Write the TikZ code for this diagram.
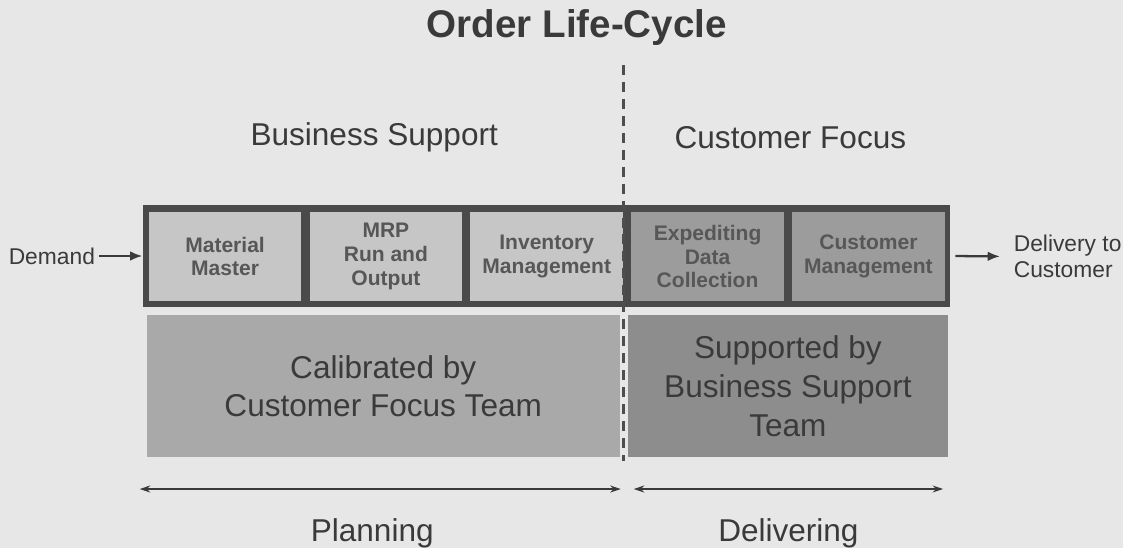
\documentclass[tikz,border=0pt]{standalone}
\usepackage{fontspec}
\setmainfont{Liberation Sans}
\usetikzlibrary{arrows.meta,positioning}

\definecolor{paper}{HTML}{E7E7E7}
\definecolor{ink}{HTML}{3A3A3A}
\definecolor{framegray}{HTML}{4A4A4A}
\definecolor{planfill}{HTML}{C6C6C6}
\definecolor{deliverfill}{HTML}{9C9C9C}
\definecolor{planband}{HTML}{A9A9A9}
\definecolor{deliverband}{HTML}{8D8D8D}

\tikzset{
  stage/.style={minimum width=3.06cm, minimum height=1.8cm, inner sep=0pt,
    align=center, text=ink!85, font=\bfseries\fontsize{12}{13.5}\selectfont},
  plan stage/.style={stage, fill=planfill},
  deliver stage/.style={stage, fill=deliverfill},
  band/.style={minimum height=2.84cm, inner sep=0pt, align=center,
    text=ink, font=\fontsize{18}{22}\selectfont},
  heading/.style={text=ink, font=\fontsize{18}{22}\selectfont},
  side/.style={text=ink, inner sep=2pt, align=left, font=\fontsize{13}{15}\selectfont},
  flow/.style={-{Latex[length=7pt,width=5.5pt]}, line width=1.3pt, draw=ink},
  span/.style={{Stealth[length=6pt,width=4pt]}-{Stealth[length=6pt,width=4pt]},
    line width=0.7pt, draw=ink},
}

\begin{document}
\begin{tikzpicture}[x=0.02cm, y=-0.02cm]
% background
\fill[paper] (0,0) rectangle (1125,549);

% title
\node[text=ink, font=\bfseries\fontsize{22}{26}\selectfont] (title) at (578,28) {Order Life-Cycle};

% the two halves
\node[heading] (business) at (375,138) {Business Support};
\node[heading] (focus) at (792,138) {Customer Focus};

% process row
\node[fill=framegray, minimum width=16.18cm, minimum height=2.06cm, inner sep=0pt] (row) at (547.5,256.5) {};
\node[plan stage] (master) at (225.5,257) {Material\\Master};
\node[plan stage, right=0.15cm of master] (mrp) {MRP\\Run and\\Output};
\node[plan stage, right=0.15cm of mrp] (inventory) {Inventory\\Management};
\node[deliver stage, right=0.15cm of inventory] (expediting) {Expediting\\Data\\Collection};
\node[deliver stage, right=0.15cm of expediting] (customer) {Customer\\Management};

% in and out
\node[side, anchor=east] (demand) at (99,256.5) {Demand};
\draw[flow] (demand) -- (row.west);
\node[side, anchor=west] (delivery) at (1012,257) {Delivery to\\Customer};
\draw[flow, shorten <=0.1cm, shorten >=0.2cm] (row.east) -- (delivery.west);

% teams
\node[band, fill=planband, minimum width=9.48cm] (calibrated) at (384,387) {Calibrated by\\Customer Focus Team};
\node[band, fill=deliverband, minimum width=6.42cm] (supported) at (789.5,387) {Supported by\\Business Support\\Team};

% divider
\draw[ink!90, line width=1.6pt, dash pattern=on 0.2cm off 0.14cm] (625,65) -- (625,462);

% phases
\coordinate (plan from) at (140,490);
\coordinate (plan to) at (622,490);
\coordinate (deliver from) at (635,490);
\coordinate (deliver to) at (945,490);
\draw[span] (plan from) -- (plan to);
\draw[span] (deliver from) -- (deliver to);
\node[heading] (planning) at (373,534) {Planning};
\node[heading] (delivering) at (790,534) {Delivering};
\end{tikzpicture}
\end{document}
